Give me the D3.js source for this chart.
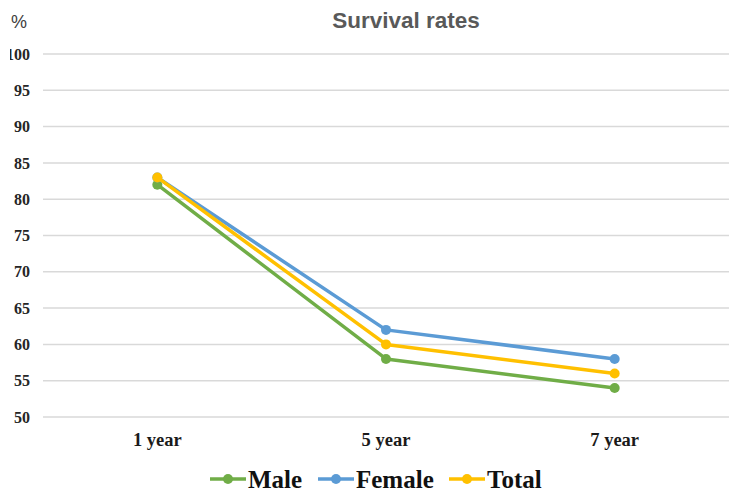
<!DOCTYPE html>
<html>
<head>
<meta charset="utf-8">
<script src="https://cdn.jsdelivr.net/npm/d3@7"></script>
<style>
  body { margin: 0; background: #fff; }
  svg { display: block; }
</style>
</head>
<body>
<svg id="chart" width="742" height="503"></svg>
<script>
// chart data
var categories = ["1 year", "5 year", "7 year"];
var maleValues = [82, 58, 54];
var femaleValues = [83, 62, 58];
var totalValues = [83, 60, 56];
var yTicks = [50, 55, 60, 65, 70, 75, 80, 85, 90, 95, 100];

var series = [
    {name: "Male", values: maleValues, color: "#70ad47"},
    {name: "Female", values: femaleValues, color: "#5b9bd5"},
    {name: "Total", values: totalValues, color: "#ffc000"}
];

var margin = {top: 54, right: 13, bottom: 86, left: 43};
var width = 742 - margin.left - margin.right;
var height = 503 - margin.top - margin.bottom;

var svg = d3.select("#chart");

// the left edge of the original picture is cropped
svg.append("defs").append("clipPath")
    .attr("id", "leftCrop")
  .append("rect")
    .attr("x", -margin.left + 10)
    .attr("y", -margin.top)
    .attr("width", 742)
    .attr("height", 503);

var g = svg.append("g")
    .attr("transform", "translate(" + margin.left + "," + margin.top + ")");

var x = d3.scaleBand().domain(categories).range([0, width]);
var y = d3.scaleLinear().domain([50, 100]).range([height, 0]);

// gridlines
g.selectAll(".grid")
    .data(yTicks)
  .enter().append("line")
    .attr("class", "grid")
    .attr("x1", 0)
    .attr("x2", width)
    .attr("y1", d => y(d))
    .attr("y2", d => y(d))
    .attr("stroke", "#d9d9d9")
    .attr("stroke-width", 1.5);

// y axis labels
var yAxis = d3.axisLeft(y).tickValues(yTicks).tickSize(0).tickPadding(13);
g.append("g")
    .attr("clip-path", "url(#leftCrop)")
    .call(yAxis)
    .call(a => a.select(".domain").remove())
    .selectAll("text")
    .attr("font-family", "'Liberation Serif', 'Times New Roman', serif")
    .attr("font-weight", "bold")
    .attr("font-size", 16)
    .attr("fill", "#262626");

// x axis labels
var xAxis = d3.axisBottom(x).tickSize(0).tickPadding(16);
g.append("g")
    .attr("transform", "translate(0," + height + ")")
    .call(xAxis)
    .call(a => a.select(".domain").remove())
    .selectAll("text")
    .attr("font-family", "'Liberation Serif', 'Times New Roman', serif")
    .attr("font-weight", "bold")
    .attr("font-size", 18.5)
    .attr("fill", "#1a1a1a");

var line = d3.line()
    .x((d, i) => x(categories[i]) + x.bandwidth() / 2)
    .y(d => y(d));

var sg = g.selectAll(".series")
    .data(series)
  .enter().append("g")
    .attr("class", "series");

sg.append("path")
    .attr("d", d => line(d.values))
    .attr("fill", "none")
    .attr("stroke", d => d.color)
    .attr("stroke-width", 3.5)
    .attr("stroke-linejoin", "round");

sg.selectAll("circle")
    .data(d => d.values.map(v => ({v: v, color: d.color})))
  .enter().append("circle")
    .attr("cx", (d, i) => x(categories[i]) + x.bandwidth() / 2)
    .attr("cy", d => y(d.v))
    .attr("r", 5)
    .attr("fill", d => d.color);

// title and unit
svg.append("text")
    .attr("x", 406)
    .attr("y", 28)
    .attr("text-anchor", "middle")
    .attr("font-family", "'Liberation Sans', Arial, sans-serif")
    .attr("font-weight", "bold")
    .attr("font-size", 22.5)
    .attr("fill", "#595959")
    .text("Survival rates");

svg.append("text")
    .attr("x", 11)
    .attr("y", 28)
    .attr("font-family", "'Liberation Sans', Arial, sans-serif")
    .attr("font-size", 18)
    .attr("fill", "#404040")
    .text("%");

// legend
var legendX = [210, 318, 449];
var legend = svg.selectAll(".legend")
    .data(series)
  .enter().append("g")
    .attr("class", "legend")
    .attr("transform", (d, i) => "translate(" + legendX[i] + ",479)");

legend.append("line")
    .attr("x1", 0).attr("x2", 36)
    .attr("y1", 0).attr("y2", 0)
    .attr("stroke", d => d.color)
    .attr("stroke-width", 3.5);

legend.append("circle")
    .attr("cx", 18).attr("cy", 0).attr("r", 5)
    .attr("fill", d => d.color);

legend.append("text")
    .attr("x", 38)
    .attr("y", 9)
    .attr("font-family", "'Liberation Serif', 'Times New Roman', serif")
    .attr("font-weight", "bold")
    .attr("font-size", 25)
    .attr("fill", "#111")
    .text(d => d.name);
</script>
</body>
</html>
